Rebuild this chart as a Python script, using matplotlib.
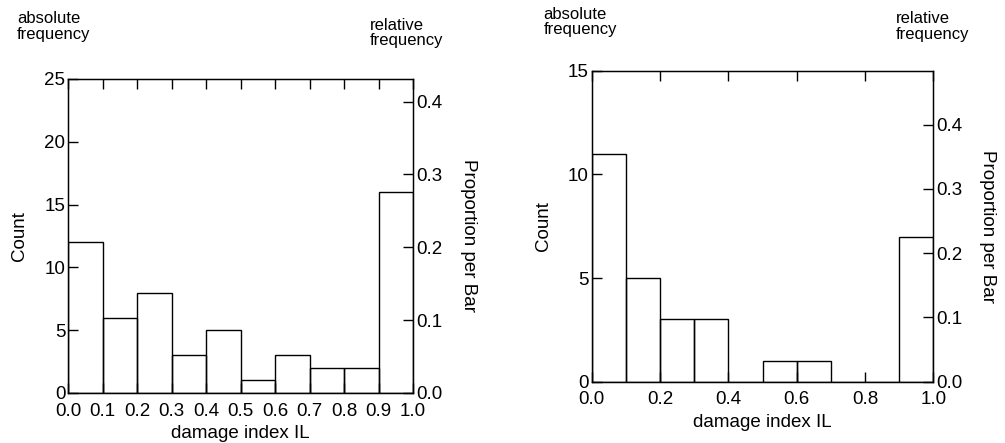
import matplotlib
matplotlib.use("Agg")
import matplotlib.pyplot as plt
import numpy as np

plt.rcParams['font.family'] = ['Liberation Sans', 'DejaVu Sans']

# histogram bins of the damage index IL
bin_edges = [0.0, 0.1, 0.2, 0.3, 0.4, 0.5, 0.6, 0.7, 0.8, 0.9, 1.0]

# counts per bin, left and right panel
counts_left = [12, 6, 8, 3, 5, 1, 3, 2, 2, 16]
counts_right = [11, 5, 3, 3, 0, 1, 1, 0, 0, 7]

xticks_left = [0.0, 0.1, 0.2, 0.3, 0.4, 0.5, 0.6, 0.7, 0.8, 0.9, 1.0]
xticks_right = [0.0, 0.2, 0.4, 0.6, 0.8, 1.0]
yticks_left = [0, 5, 10, 15, 20, 25]
yticks_right = [0, 5, 10, 15]
prop_ticks_left = [0.0, 0.1, 0.2, 0.3, 0.4]
prop_ticks_right = [0.0, 0.1, 0.2, 0.3, 0.4]

FS = 13.5
TFS = 13.5
fig = plt.figure(figsize=(10.05, 4.43), dpi=100)


def panel(rect, counts, xticks, yticks, pticks, ymax):
    ax = fig.add_axes(rect)
    edges = np.array(bin_edges)
    ax.bar(edges[:-1], counts, width=np.diff(edges), align='edge',
           fill=False, edgecolor='black', linewidth=1.0)
    ax.set_xlim(0, 1)
    ax.set_ylim(0, ymax)
    ax.set_xticks(xticks)
    ax.set_xticklabels([f"{t:.1f}" for t in xticks])
    ax.set_yticks(yticks)
    ax.tick_params(direction='in', length=7.2, width=1, labelsize=TFS,
                   top=True, right=False, pad=2)
    ax.tick_params(axis='x', pad=7)
    for s in ax.spines.values():
        s.set_linewidth(1.0)
    ax.set_xlabel('damage index IL', fontsize=FS, va='center')
    ax.xaxis.set_label_coords(0.5, -0.13)
    ax.set_ylabel('Count', fontsize=FS, va='center')
    ax.yaxis.set_label_coords(-0.14, 0.5)

    total = sum(counts)
    ax2 = ax.twinx()
    ax2.set_ylim(0, ymax / total)
    ax2.set_yticks(pticks)
    ax2.set_yticklabels([f"{t:.1f}" for t in pticks])
    ax2.tick_params(direction='in', length=7.2, width=1, labelsize=TFS, pad=2)
    ax2.set_ylabel('Proportion per Bar', fontsize=FS, rotation=270, va='center')
    ax2.yaxis.set_label_coords(1.16, 0.5)
    return ax


ax_l = panel([0.0677, 0.1129, 0.3434, 0.7088], counts_left,
             xticks_left, yticks_left, prop_ticks_left, 25)
ax_r = panel([0.5888, 0.1384, 0.3399, 0.7020], counts_right,
             xticks_right, yticks_right, prop_ticks_right, 15)

SFS = 12
fig.text(0.017, 0.975, 'absolute\nfrequency', fontsize=SFS, va='top', ha='left', linespacing=1.05)
fig.text(0.368, 0.960, 'relative\nfrequency', fontsize=SFS, va='top', ha='left', linespacing=1.05)
fig.text(0.541, 0.985, 'absolute\nfrequency', fontsize=SFS, va='top', ha='left', linespacing=1.05)
fig.text(0.891, 0.975, 'relative\nfrequency', fontsize=SFS, va='top', ha='left', linespacing=1.05)

fig.savefig('out.png', dpi=100)
